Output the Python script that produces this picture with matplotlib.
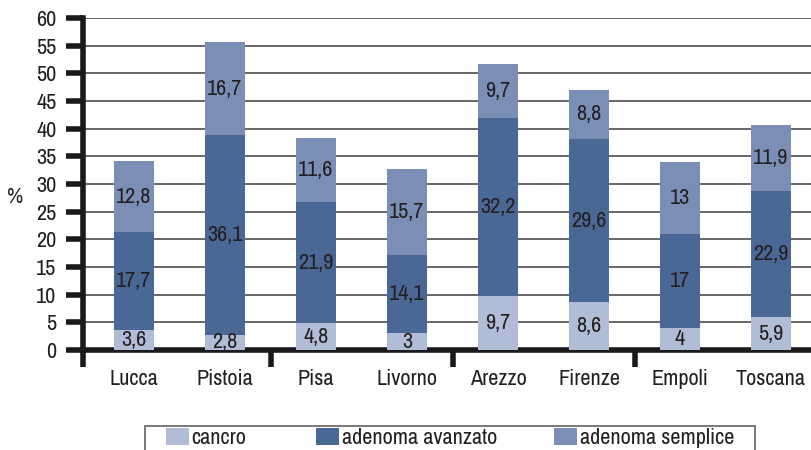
import numpy as np
import matplotlib.pyplot as plt
from matplotlib.patches import Rectangle, Patch

plt.rcParams['font.family'] = ['Archivo Narrow', 'DejaVu Sans']

# Data
regions = ["Lucca", "Pistoia", "Pisa", "Livorno", "Arezzo", "Firenze", "Empoli", "Toscana"]
cancro = [3.6, 2.8, 4.8, 3, 9.7, 8.6, 4, 5.9]
adenoma_avanzato = [17.7, 36.1, 21.9, 14.1, 32.2, 29.6, 17, 22.9]
adenoma_semplice = [12.8, 16.7, 11.6, 15.7, 9.7, 8.8, 13, 11.9]

series = [("cancro", cancro, "#b1bdd7"),
          ("adenoma avanzato", adenoma_avanzato, "#4a6895"),
          ("adenoma semplice", adenoma_semplice, "#7b8fb6")]

fs = 16
txt = "#231f20"
dark = "#1a1a1a"

W, H = 811, 450
fig = plt.figure(figsize=(W / 100, H / 100), dpi=100)
# plot area runs past the right edge of the picture (cropped like the original)
ax_l, ax_r, ax_b, ax_t = 83, 822, 350, 18
ax = fig.add_axes([ax_l / W, 1 - ax_b / H, (ax_r - ax_l) / W, (ax_b - ax_t) / H])

step, c0 = 91.0, 134.0
x_lo = (ax_l - c0) / step
ax.set_xlim(x_lo, (ax_r - c0) / step)
ax.set_ylim(0, 60)

x = np.arange(len(regions))
bottom = np.zeros(len(regions))
for name, vals, col in series:
    vals = np.array(vals, dtype=float)
    ax.bar(x, vals, 0.44, bottom=bottom, color=col, zorder=3, label=name)
    for xi, b, v in zip(x, bottom, vals):
        lab = f"{v:g}".replace(".", ",")
        ax.text(xi, b + v / 2, lab, ha="center", va="center",
                fontsize=fs, color=txt, zorder=4)
    bottom += vals

ax.set_yticks(np.arange(0, 61, 5))
ax.tick_params(axis="y", direction="out", length=12, width=4, color=dark,
               labelsize=fs, labelcolor=txt, pad=7)
ax.yaxis.grid(True, color="#5a5a5a", linewidth=1.3, zorder=0)
ax.set_axisbelow(True)

ax.set_xticks(x)
ax.set_xticklabels(regions)
ax.tick_params(axis="x", length=0, labelsize=fs, labelcolor=txt, pad=14)
ax.set_xticks([x_lo, 1.5, 3.5, 5.5], minor=True)
ax.tick_params(axis="x", which="minor", direction="out", length=12, width=4,
               color=dark)

for side in ["top", "right"]:
    ax.spines[side].set_visible(False)
for side in ["left", "bottom"]:
    ax.spines[side].set_linewidth(4)
    ax.spines[side].set_color(dark)

fig.text(15 / W, 1 - 197 / H, "%", fontsize=fs, color=txt,
         ha="center", va="center")

# legend box, cut by the bottom edge of the picture
fig.patches.append(Rectangle((145 / W, 1 - 460 / H), 610 / W, 34 / H,
                             transform=fig.transFigure, fill=False,
                             edgecolor="#6e6e6e", linewidth=1.3))
leg_x = [166, 316, 554]
for (name, _, col), lx in zip(series, leg_x):
    fig.legend([Patch(facecolor=col, edgecolor="none")], [name],
               loc="center left", bbox_to_anchor=(lx / W, 1 - 438 / H),
               frameon=False, fontsize=fs, handlelength=1.05,
               handleheight=0.8, handletextpad=0.1, borderpad=0,
               borderaxespad=0, labelcolor=txt)

fig.savefig("out.png", dpi=100)
